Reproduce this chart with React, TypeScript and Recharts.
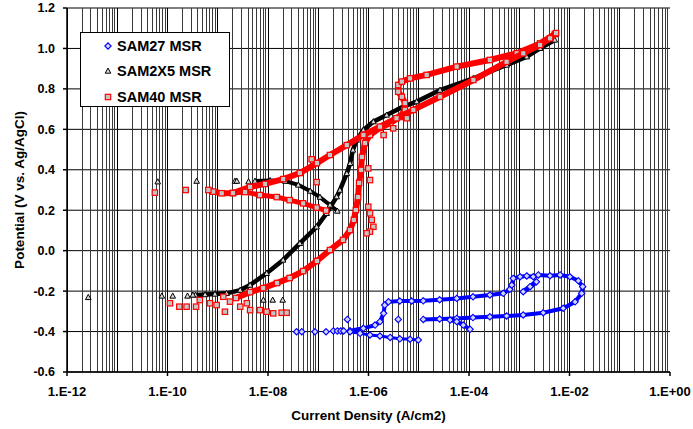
import { ScatterChart, Scatter, XAxis, YAxis, CartesianGrid, ReferenceLine, Legend, Label } from "recharts";

type Pt = readonly [number, number];

const X_TICKS = [1e-12, 1e-10, 1e-8, 1e-6, 1e-4, 1e-2, 1];
const Y_TICKS = [-0.6, -0.4, -0.2, 0, 0.2, 0.4, 0.6, 0.8, 1.0, 1.2];
const GRID_DECADES = [-12, -11, -10, -9, -8, -7, -6, -5, -4, -3, -2, -1];
const GRID_STEPS = [1, 2, 3, 4, 5, 6, 7, 8, 9];

// SAM27 MSR (blue diamonds)
const SAM27_SPARSE: Pt[] = [
  [3.7e-8, -0.401], [4.7e-8, -0.401], [8.6e-8, -0.401], [1.43e-7, -0.401],
  [2.0e-7, -0.397], [2.4e-7, -0.397], [2.8e-7, -0.397], [3.2e-7, -0.397],
  [3.8e-7, -0.34], [3.9e-6, -0.34],
];
const SAM27_LOWER: Pt[] = [
  [4.3e-7, -0.401], [6.8e-7, -0.409], [1.07e-6, -0.417], [1.69e-6, -0.422],
  [2.7e-6, -0.429], [4.2e-6, -0.436], [6.7e-6, -0.438], [9.8e-6, -0.442],
];
const SAM27_LOOP: Pt[] = [
  [4.3e-7, -0.396], [7.9e-7, -0.384], [1.35e-6, -0.368], [1.69e-6, -0.351],
  [2.0e-6, -0.31], [2.1e-6, -0.269], [2.5e-6, -0.253], [4.2e-6, -0.249],
  [7.2e-6, -0.249], [1.23e-5, -0.248], [2.6e-5, -0.243], [5.7e-5, -0.236],
  [1.2e-4, -0.228], [2.6e-4, -0.219], [4.8e-4, -0.211], [6.5e-4, -0.191],
  [7.1e-4, -0.17], [7.6e-4, -0.137], [1.04e-3, -0.129], [1.41e-3, -0.125],
  [1.9e-3, -0.129], [2.4e-3, -0.12], [4.1e-3, -0.124], [6.5e-3, -0.12],
  [1.02e-2, -0.129], [1.5e-2, -0.149], [1.83e-2, -0.178], [1.75e-2, -0.211],
  [1.29e-2, -0.253], [7.5e-3, -0.285], [3.0e-3, -0.307], [1.2e-3, -0.318],
  [5.6e-4, -0.323], [2.6e-4, -0.327], [1.2e-4, -0.331], [5.7e-5, -0.335],
  [2.6e-5, -0.338], [1.23e-5, -0.34],
];
const SAM27_HOOK: Pt[] = [
  [4.2e-5, -0.343], [5.7e-5, -0.351], [7.7e-5, -0.368], [1.05e-4, -0.389],
];
const SAM27_BLOB: Pt[] = [
  [1.2e-3, -0.203], [1.64e-3, -0.178], [2.2e-3, -0.154],
];

// SAM2X5 MSR (black triangles)
const SAM2X5_SPARSE: Pt[] = [
  [2.65e-12, -0.231], [7.7e-11, -0.224], [1.27e-10, -0.224], [2.5e-10, -0.224],
  [3.2e-10, -0.219], [8.1e-9, -0.244], [1.24e-8, -0.244], [1.96e-8, -0.244],
  [6.4e-11, 0.341], [3.8e-10, 0.344], [2.2e-9, 0.344], [2.4e-9, 0.344], [4.1e-9, 0.341],
];
const SAM2X5_FORWARD: Pt[] = [
  [3.6e-10, -0.219], [5.6e-10, -0.217], [8.8e-10, -0.214], [1.5e-9, -0.211],
  [2.8e-9, -0.195], [4.4e-9, -0.17], [9.4e-9, -0.112], [2.0e-8, -0.046],
  [4.3e-8, 0.036], [9.3e-8, 0.118], [1.47e-7, 0.185], [2.33e-7, 0.267],
  [2.7e-7, 0.3], [3.7e-7, 0.382], [4.3e-7, 0.432], [4.9e-7, 0.498],
  [5.8e-7, 0.547], [7.9e-7, 0.597], [1.25e-6, 0.638], [2.3e-6, 0.671],
  [4.9e-6, 0.712], [9.1e-6, 0.737], [2.65e-5, 0.794], [1.22e-4, 0.852],
  [5.6e-4, 0.918], [1.41e-3, 0.959], [2.6e-3, 1.001], [5.1e-3, 1.042],
];
const SAM2X5_REVERSE: Pt[] = [
  [5.5e-9, 0.344], [1.1e-8, 0.347], [2.2e-8, 0.344], [4.0e-8, 0.325],
  [6.9e-8, 0.295], [1.08e-7, 0.265], [1.71e-7, 0.226], [2.4e-7, 0.196],
];

// SAM40 MSR (red squares)
const SAM40_SPARSE: Pt[] = [
  [5.6e-11, 0.287], [2.3e-10, 0.3], [7.4e-8, 0.452], [9.3e-8, 0.339],
  [9.9e-7, 0.217], [1.07e-6, 0.185], [1.16e-6, 0.152], [1.25e-6, 0.118],
  [1.07e-6, 0.094], [9.2e-7, 0.086], [1.07e-6, 0.349], [9.9e-7, 0.407],
  [2.0e-6, 0.572], [3.1e-6, 0.605], [5.8e-6, 0.655],
  [1.12e-10, -0.26], [1.72e-10, -0.277], [2.4e-10, -0.277], [3.7e-10, -0.277],
  [4.4e-10, -0.244], [7.0e-10, -0.26], [9.5e-10, -0.269], [1.29e-9, -0.228],
  [1.39e-9, -0.302], [1.75e-9, -0.252], [2.8e-9, -0.277], [3.8e-9, -0.26],
  [4.4e-9, -0.294], [6.9e-9, -0.294], [9.4e-9, -0.302], [1.27e-8, -0.31],
  [1.87e-8, -0.307], [2.35e-8, -0.307],
];
const SAM40_FORWARD: Pt[] = [
  [2.3e-9, -0.234], [4.4e-9, -0.205], [8.0e-9, -0.185], [1.51e-8, -0.16],
  [2.7e-8, -0.135], [5.0e-8, -0.101], [9.4e-8, -0.051], [1.71e-7, 0.003],
  [3.1e-7, 0.053], [4.3e-7, 0.102], [5.1e-7, 0.152], [5.6e-7, 0.201],
  [6.2e-7, 0.265], [6.5e-7, 0.335], [7.1e-7, 0.399], [7.4e-7, 0.463],
  [8.5e-7, 0.532], [1.07e-6, 0.572], [1.69e-6, 0.607], [2.7e-6, 0.631],
  [4.2e-6, 0.661], [5.3e-6, 0.696], [5.3e-6, 0.73], [4.6e-6, 0.761],
  [3.9e-6, 0.786], [3.9e-6, 0.819], [4.6e-6, 0.836], [6.7e-6, 0.852],
  [1.44e-5, 0.869], [5.7e-5, 0.91], [2.6e-4, 0.943], [8.9e-4, 0.976],
  [2.6e-3, 1.025], [5.1e-3, 1.071],
];
const SAM40_REVERSE: Pt[] = [
  [5.4e-3, 1.076], [4.1e-3, 1.05], [2.6e-3, 1.017], [1.2e-3, 0.976],
  [5.6e-4, 0.934], [1.22e-4, 0.844], [2.65e-5, 0.761], [7.8e-6, 0.696],
  [3.6e-6, 0.655], [1.69e-6, 0.613], [7.9e-7, 0.572], [3.7e-7, 0.522],
  [1.71e-7, 0.473], [9.4e-8, 0.433], [4.3e-8, 0.384], [2.0e-8, 0.354],
  [8.7e-9, 0.33], [4.4e-9, 0.315], [2.0e-9, 0.285], [1.2e-9, 0.284],
  [8.1e-10, 0.292], [6.5e-10, 0.3],
];
const SAM40_ARM: Pt[] = [
  [2.0e-9, 0.285], [3.5e-9, 0.29], [6.9e-9, 0.275], [1.49e-8, 0.265],
  [2.7e-8, 0.25], [5.0e-8, 0.234], [9.3e-8, 0.213], [1.43e-7, 0.198],
];

const FONT = "'Liberation Sans', Arial, sans-serif";
const BLUE = "#0000ff";
const RED = "#ff0000";

const gridX = GRID_DECADES.flatMap((d) => GRID_STEPS.map((k) => k * Math.pow(10, d))).concat([1]);
const toPts = (a: Pt[]) => a.map(([x, y]) => ({ x, y }));

const fmtX = (v: number) => {
  const e = Math.round(Math.log10(v));
  return `1.E${e < 0 ? "-" : "+"}${String(Math.abs(e)).padStart(2, "0")}`;
};

const Diamond = (p: any) => (
  <path
    d={`M${p.cx} ${p.cy - 3.2}L${p.cx + 3.2} ${p.cy}L${p.cx} ${p.cy + 3.2}L${p.cx - 3.2} ${p.cy}Z`}
    fill="#d4d4f4"
    stroke={BLUE}
    strokeWidth={1.1}
  />
);
const Triangle = (p: any) => (
  <path
    d={`M${p.cx} ${p.cy - 3}L${p.cx + 2.8} ${p.cy + 2.2}L${p.cx - 2.8} ${p.cy + 2.2}Z`}
    fill="#d8d8d8"
    stroke="#000"
    strokeWidth={1}
  />
);
const Square = (p: any) => (
  <rect x={p.cx - 2.7} y={p.cy - 2.7} width={5.4} height={5.4} fill="#c4c4c4" stroke={RED} strokeWidth={1.2} />
);

const LEGEND_ITEMS = [
  { name: "SAM27 MSR", Shape: Diamond },
  { name: "SAM2X5 MSR", Shape: Triangle },
  { name: "SAM40 MSR", Shape: Square },
];

const renderLegend = () => (
  <div style={{ width: 148, height: 73, border: "1px solid #000", background: "#fff", fontFamily: FONT }}>
    {LEGEND_ITEMS.map(({ name, Shape }) => (
      <div key={name} style={{ display: "flex", alignItems: "center", height: 25.5, paddingLeft: 21 }}>
        <svg width={12} height={12} style={{ marginRight: 3 }}>
          <Shape cx={6} cy={6} />
        </svg>
        <span style={{ fontWeight: "bold", fontSize: 14.5, color: "#000" }}>{name}</span>
      </div>
    ))}
  </div>
);

const xTickStyle = { fontFamily: FONT, fontWeight: "bold", fontSize: 13, fill: "#000" };
const yTickStyle = { fontFamily: FONT, fontWeight: "bold", fontSize: 12.5, fill: "#000" };

export default function App() {
  return (
    <div style={{ position: "absolute", left: 0, top: 0, width: 693, height: 429, background: "#fff" }}>
      <ScatterChart width={693} height={429} margin={{ top: 8, right: 23, bottom: 0, left: 0 }}>
        <CartesianGrid stroke="#000" strokeWidth={1} vertical={false} />
        {gridX.map((v, i) => (
          <ReferenceLine
            key={v}
            x={v}
            stroke={i % 9 === 0 ? "#000" : "#3a3a3a"}
            strokeWidth={1}
            shapeRendering="crispEdges"
            ifOverflow="hidden"
          />
        ))}
        <XAxis
          dataKey="x"
          type="number"
          scale="log"
          domain={[1e-12, 1]}
          allowDataOverflow
          ticks={X_TICKS}
          tickFormatter={fmtX}
          height={57}
          tick={xTickStyle}
          tickSize={4}
          tickMargin={11}
          stroke="#000"
          strokeWidth={1.5}
        >
          <Label
            value="Current Density (A/cm2)"
            position="insideBottom"
            offset={9}
            style={{ fontFamily: FONT, fontWeight: "bold", fontSize: 13.5, fill: "#000" }}
          />
        </XAxis>
        <YAxis
          dataKey="y"
          type="number"
          domain={[-0.6, 1.2]}
          ticks={Y_TICKS}
          tickFormatter={(v: number) => v.toFixed(1)}
          width={67}
          tick={yTickStyle}
          tickSize={4}
          tickMargin={8}
          stroke="#000"
          strokeWidth={1.5}
        >
          <Label
            value="Potential (V vs. Ag/AgCl)"
            angle={-90}
            position="insideLeft"
            offset={19}
            style={{ textAnchor: "middle", fontFamily: FONT, fontWeight: "bold", fontSize: 13.5, fill: "#000" }}
          />
        </YAxis>
        <Legend
          content={renderLegend}
          layout="vertical"
          align="center"
          verticalAlign="middle"
          wrapperStyle={{ left: 80, top: 32, width: 150, height: 75 }}
        />

        <Scatter data={toPts(SAM2X5_FORWARD)} line={{ stroke: "#000", strokeWidth: 4.5 }} shape={Triangle} isAnimationActive={false} />
        <Scatter data={toPts(SAM2X5_REVERSE)} line={{ stroke: "#000", strokeWidth: 4 }} shape={Triangle} isAnimationActive={false} />
        <Scatter data={toPts(SAM2X5_SPARSE)} shape={Triangle} isAnimationActive={false} />

        <Scatter data={toPts(SAM40_FORWARD)} line={{ stroke: RED, strokeWidth: 6 }} shape={Square} isAnimationActive={false} />
        <Scatter data={toPts(SAM40_REVERSE)} line={{ stroke: RED, strokeWidth: 6 }} shape={Square} isAnimationActive={false} />
        <Scatter data={toPts(SAM40_ARM)} line={{ stroke: RED, strokeWidth: 5 }} shape={Square} isAnimationActive={false} />
        <Scatter data={toPts(SAM40_SPARSE)} shape={Square} isAnimationActive={false} />

        <Scatter data={toPts(SAM27_LOOP)} line={{ stroke: BLUE, strokeWidth: 4 }} shape={Diamond} isAnimationActive={false} />
        <Scatter data={toPts(SAM27_LOWER)} line={{ stroke: BLUE, strokeWidth: 3 }} shape={Diamond} isAnimationActive={false} />
        <Scatter data={toPts(SAM27_HOOK)} line={{ stroke: BLUE, strokeWidth: 4 }} shape={Diamond} isAnimationActive={false} />
        <Scatter data={toPts(SAM27_BLOB)} line={{ stroke: BLUE, strokeWidth: 5 }} shape={Diamond} isAnimationActive={false} />
        <Scatter data={toPts(SAM27_SPARSE)} shape={Diamond} isAnimationActive={false} />
      </ScatterChart>
    </div>
  );
}
